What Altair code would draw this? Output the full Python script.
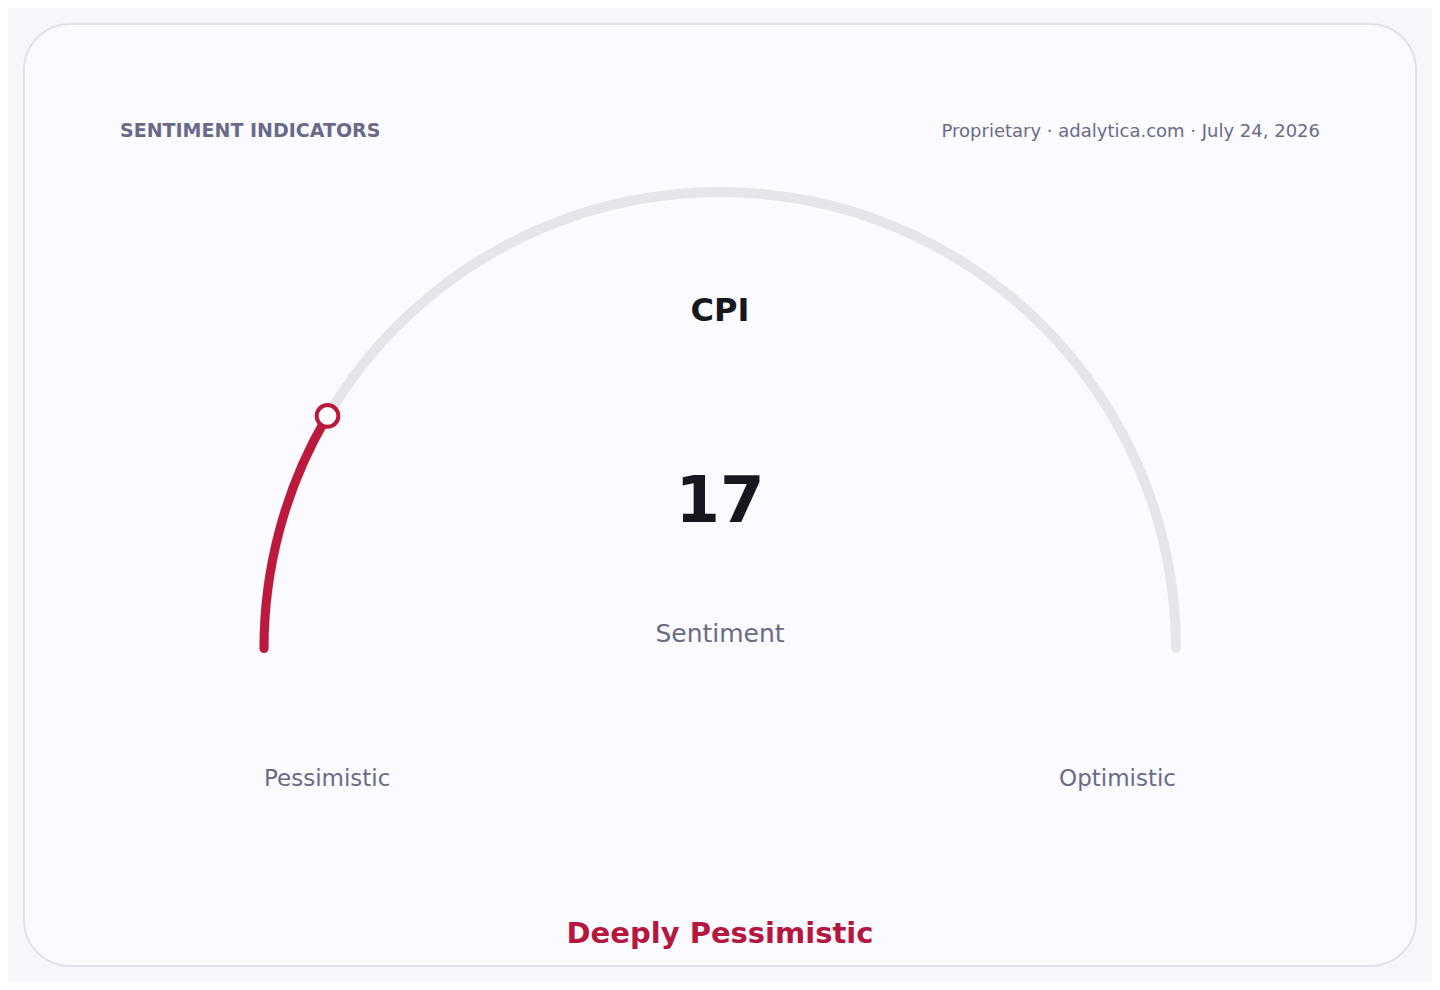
import math
import altair as alt
import pandas as pd

# ---- data ----
title_left = ["SENTIMENT INDICATORS"]
title_right = ["Proprietary · adalytica.com · July 24, 2026"]
indicator = ["CPI"]
value = [17]
value_label = ["Sentiment"]
scale_min_max = [0, 100]
end_labels = ["Pessimistic", "Optimistic"]
verdict = ["Deeply Pessimistic"]

W, H = 1424, 974
CX, CY, R = 712, 640, 456
FONT = "DejaVu Sans"
RED = "#bb1a3c"
GREY = "#6b6b86"
CAP = 0.011

theta_scale = alt.Scale(domain=scale_min_max, range=[-math.pi / 2, math.pi / 2])

card = alt.Chart(pd.DataFrame({"k": [0]})).mark_rect(
    cornerRadius=46, fill="#fafaff", stroke="#e1e1ec", strokeWidth=2
).encode(x=alt.value(16), x2=alt.value(1408), y=alt.value(16), y2=alt.value(958))

track_df = pd.DataFrame({"start": [scale_min_max[0]], "end": [scale_min_max[1]]})
track = alt.Chart(track_df).mark_arc(
    innerRadius=R - 5, outerRadius=R + 5, cornerRadius=5, color="#e5e5ea",
    thetaOffset=-CAP, theta2Offset=CAP,
).encode(
    theta=alt.Theta("start:Q", scale=theta_scale),
    theta2="end:Q",
    x=alt.value(CX),
    y=alt.value(CY),
)

val_df = pd.DataFrame({"start": [scale_min_max[0]], "end": value})
val_arc = alt.Chart(val_df).mark_arc(
    innerRadius=R - 4.5, outerRadius=R + 4.5, cornerRadius=4.5, color=RED,
    thetaOffset=-CAP,
).encode(
    theta=alt.Theta("start:Q", scale=theta_scale),
    theta2="end:Q",
    x=alt.value(CX),
    y=alt.value(CY),
)

marker = alt.Chart(pd.DataFrame({"v": value})).transform_calculate(
    px=f"{CX} - {R} * cos(datum.v / {scale_min_max[1]} * PI)",
    py=f"{CY} - {R} * sin(datum.v / {scale_min_max[1]} * PI)",
).mark_point(
    shape="circle", size=470, filled=True, fill="#ffffff", stroke=RED, strokeWidth=4, opacity=1
).encode(
    x=alt.X("px:Q", scale=alt.Scale(domain=[0, W], range=[0, W], nice=False, zero=False), axis=None),
    y=alt.Y("py:Q", scale=alt.Scale(domain=[0, H], range=[0, H], nice=False, zero=False), axis=None),
)


def txt(lst, x, y, size, color, weight="normal", align="center"):
    return alt.Chart(pd.DataFrame({"t": lst})).mark_text(
        font=FONT, fontSize=size, color=color, fontWeight=weight, align=align,
        baseline="alphabetic",
    ).encode(text="t:N", x=alt.value(x), y=alt.value(y))


layers = [
    card, track, val_arc, marker,
    txt(title_left, 112, 129, 19, "#6a6a88", "bold", "left"),
    txt(title_right, 1312, 129, 18, GREY, "normal", "right"),
    txt(indicator, 712, 313, 32, "#17171f", "bold"),
    txt([str(value[0])], 712, 514, 64, "#17171f", "bold"),
    txt(value_label, 712, 634, 25, GREY),
    txt([end_labels[0]], 256, 778, 23, GREY, "normal", "left"),
    txt([end_labels[1]], 1168, 778, 23, GREY, "normal", "right"),
    txt(verdict, 712, 935, 29, "#b5173f", "bold"),
]

chart = alt.layer(*layers).properties(
    width=W, height=H, autosize=alt.AutoSizeParams(type="none"), padding=0,
    background="#f7f7fb",
).configure_view(stroke=None)

chart.save("out.html", embed_options={"renderer": "svg", "actions": False})
